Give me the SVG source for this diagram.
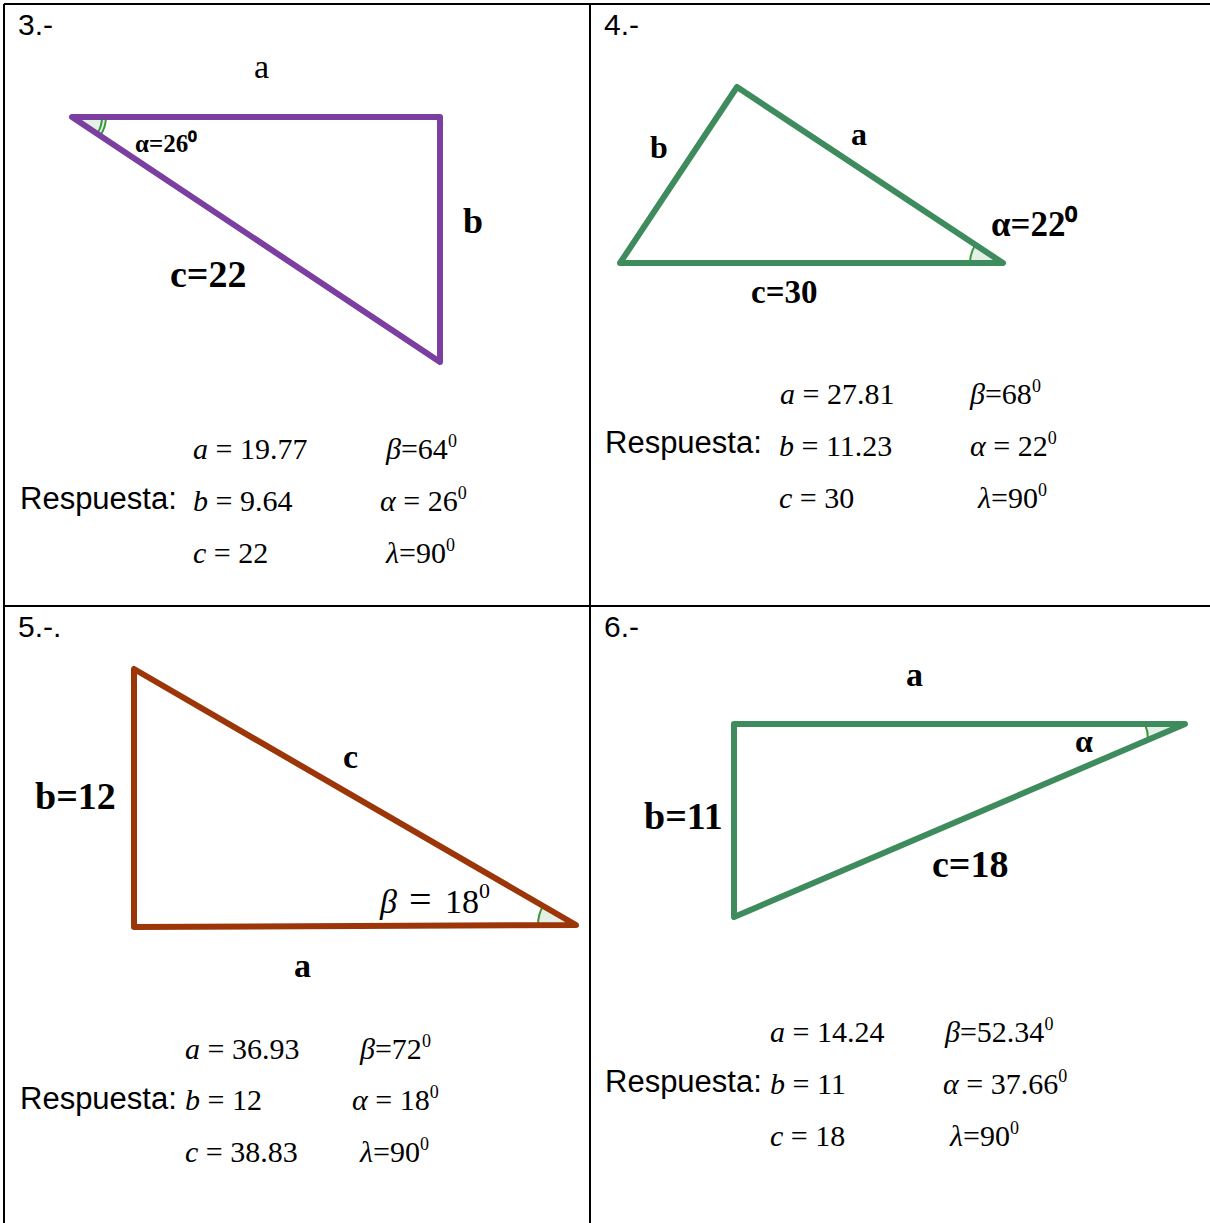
<svg xmlns="http://www.w3.org/2000/svg" width="1210" height="1223" viewBox="0 0 1210 1223">
<style>
.grid{stroke:#000;stroke-width:2;fill:none}
.tri{fill:none;stroke-width:6;stroke-linejoin:round;stroke-linecap:round}
.purple{stroke:#7b3fa1}
.green{stroke:#3e8c5e}
.brown{stroke:#9c3508}
.arc{fill:#e4efe6;stroke:#3a9a3a;stroke-width:2}
.num{font-family:"Liberation Sans",Arial,sans-serif;font-size:30px;fill:#000}
.resp{font-family:"Liberation Sans",Arial,sans-serif;font-size:31px;fill:#000}
.lbl{font-family:"Liberation Serif","Times New Roman",serif;font-weight:bold;fill:#000}
.math{font-family:"Liberation Serif","Times New Roman",serif;font-size:30px;fill:#000}
.it{font-style:italic}
.sup{font-size:18px}
</style>
<rect width="1210" height="1223" fill="#fff"/>
<g id="table">
<line class="grid" x1="4" y1="4" x2="1210" y2="4"/>
<line class="grid" x1="4" y1="4" x2="4" y2="1223"/>
<line class="grid" x1="590" y1="4" x2="590" y2="1223"/>
<line class="grid" x1="4" y1="606" x2="1210" y2="606"/>
</g>
<g id="cell3">
<text class="num" x="18" y="35">3.-</text>
<path class="arc" d="M72,117 L106,117 A34,34 0 0 1 100,136 Z"/>
<path d="M102,117 A30,30 0 0 1 97,134" fill="none" stroke="#3a9a3a" stroke-width="2"/>
<polygon class="tri purple" points="72,117 440,117 440,362"/>
<text x="254" y="78" font-family="Liberation Serif, serif" font-size="34">a</text>
<text class="lbl" x="135" y="152" font-size="25">α=26⁰</text>
<text class="lbl" x="463" y="233" font-size="36">b</text>
<text class="lbl" x="170" y="287" font-size="38">c=22</text>
<text class="resp" x="20" y="509">Respuesta:</text>
<text class="math" x="193" y="459"><tspan class="it">a</tspan> = 19.77</text>
<text class="math" x="386" y="459"><tspan class="it">β</tspan>=64<tspan class="sup" dy="-12">0</tspan></text>
<text class="math" x="193" y="511"><tspan class="it">b</tspan> = 9.64</text>
<text class="math" x="380" y="511"><tspan class="it">α</tspan> = 26<tspan class="sup" dy="-12">0</tspan></text>
<text class="math" x="193" y="563"><tspan class="it">c</tspan> = 22</text>
<text class="math" x="386" y="563"><tspan class="it">λ</tspan>=90<tspan class="sup" dy="-12">0</tspan></text>
</g>
<g id="cell4">
<text class="num" x="604" y="35">4.-</text>
<path class="arc" d="M1003,263 L970,263 A33,33 0 0 1 975.5,244.8 Z"/>
<polygon class="tri green" points="620,263 737,87 1003,263"/>
<text class="lbl" x="650" y="158" font-size="32">b</text>
<text class="lbl" x="851" y="145" font-size="32">a</text>
<text class="lbl" x="991" y="236" font-size="35">α=22⁰</text>
<text class="lbl" x="751" y="303" font-size="33">c=30</text>
<text class="resp" x="605" y="453">Respuesta:</text>
<text class="math" x="780" y="404"><tspan class="it">a</tspan> = 27.81</text>
<text class="math" x="970" y="404"><tspan class="it">β</tspan>=68<tspan class="sup" dy="-12">0</tspan></text>
<text class="math" x="779" y="456"><tspan class="it">b</tspan> = 11.23</text>
<text class="math" x="970" y="456"><tspan class="it">α</tspan> = 22<tspan class="sup" dy="-12">0</tspan></text>
<text class="math" x="779" y="508"><tspan class="it">c</tspan> = 30</text>
<text class="math" x="978" y="508"><tspan class="it">λ</tspan>=90<tspan class="sup" dy="-12">0</tspan></text>
</g>
<g id="cell5">
<text class="num" x="18" y="637">5.-.</text>
<path class="arc" d="M576,925 L538,925 A38,38 0 0 1 543,906 Z"/>
<polygon class="tri brown" points="134,669 134,927 576,925"/>
<text class="lbl" x="35" y="809" font-size="38">b=12</text>
<text class="lbl" x="343" y="768" font-size="34">c</text>
<text class="math" x="380" y="913" style="font-size:34px"><tspan class="it">β</tspan><tspan x="409" style="font-size:40px">=</tspan><tspan x="445">18</tspan><tspan dy="-15" style="font-size:22px">0</tspan></text>
<text class="lbl" x="294" y="977" font-size="34">a</text>
<text class="resp" x="20" y="1109">Respuesta:</text>
<text class="math" x="185" y="1059"><tspan class="it">a</tspan> = 36.93</text>
<text class="math" x="360" y="1059"><tspan class="it">β</tspan>=72<tspan class="sup" dy="-12">0</tspan></text>
<text class="math" x="185" y="1110"><tspan class="it">b</tspan> = 12</text>
<text class="math" x="352" y="1110"><tspan class="it">α</tspan> = 18<tspan class="sup" dy="-12">0</tspan></text>
<text class="math" x="185" y="1162"><tspan class="it">c</tspan> = 38.83</text>
<text class="math" x="360" y="1162"><tspan class="it">λ</tspan>=90<tspan class="sup" dy="-12">0</tspan></text>
</g>
<g id="cell6">
<text class="num" x="604" y="637">6.-</text>
<path class="arc" d="M1185,724 L1145,724 A40,40 0 0 1 1148,740 Z"/>
<polygon class="tri green" points="734,724 1185,724 734,917"/>
<text class="lbl" x="906" y="686" font-size="34">a</text>
<text class="lbl" x="1075" y="752" font-size="32">α</text>
<text class="lbl" x="644" y="829" font-size="38">b=11</text>
<text class="lbl" x="932" y="877" font-size="38">c=18</text>
<text class="resp" x="605" y="1092">Respuesta:</text>
<text class="math" x="770" y="1042"><tspan class="it">a</tspan> = 14.24</text>
<text class="math" x="945" y="1042"><tspan class="it">β</tspan>=52.34<tspan class="sup" dy="-12">0</tspan></text>
<text class="math" x="770" y="1094"><tspan class="it">b</tspan> = 11</text>
<text class="math" x="943" y="1094"><tspan class="it">α</tspan> = 37.66<tspan class="sup" dy="-12">0</tspan></text>
<text class="math" x="770" y="1146"><tspan class="it">c</tspan> = 18</text>
<text class="math" x="950" y="1146"><tspan class="it">λ</tspan>=90<tspan class="sup" dy="-12">0</tspan></text>
</g>
</svg>
